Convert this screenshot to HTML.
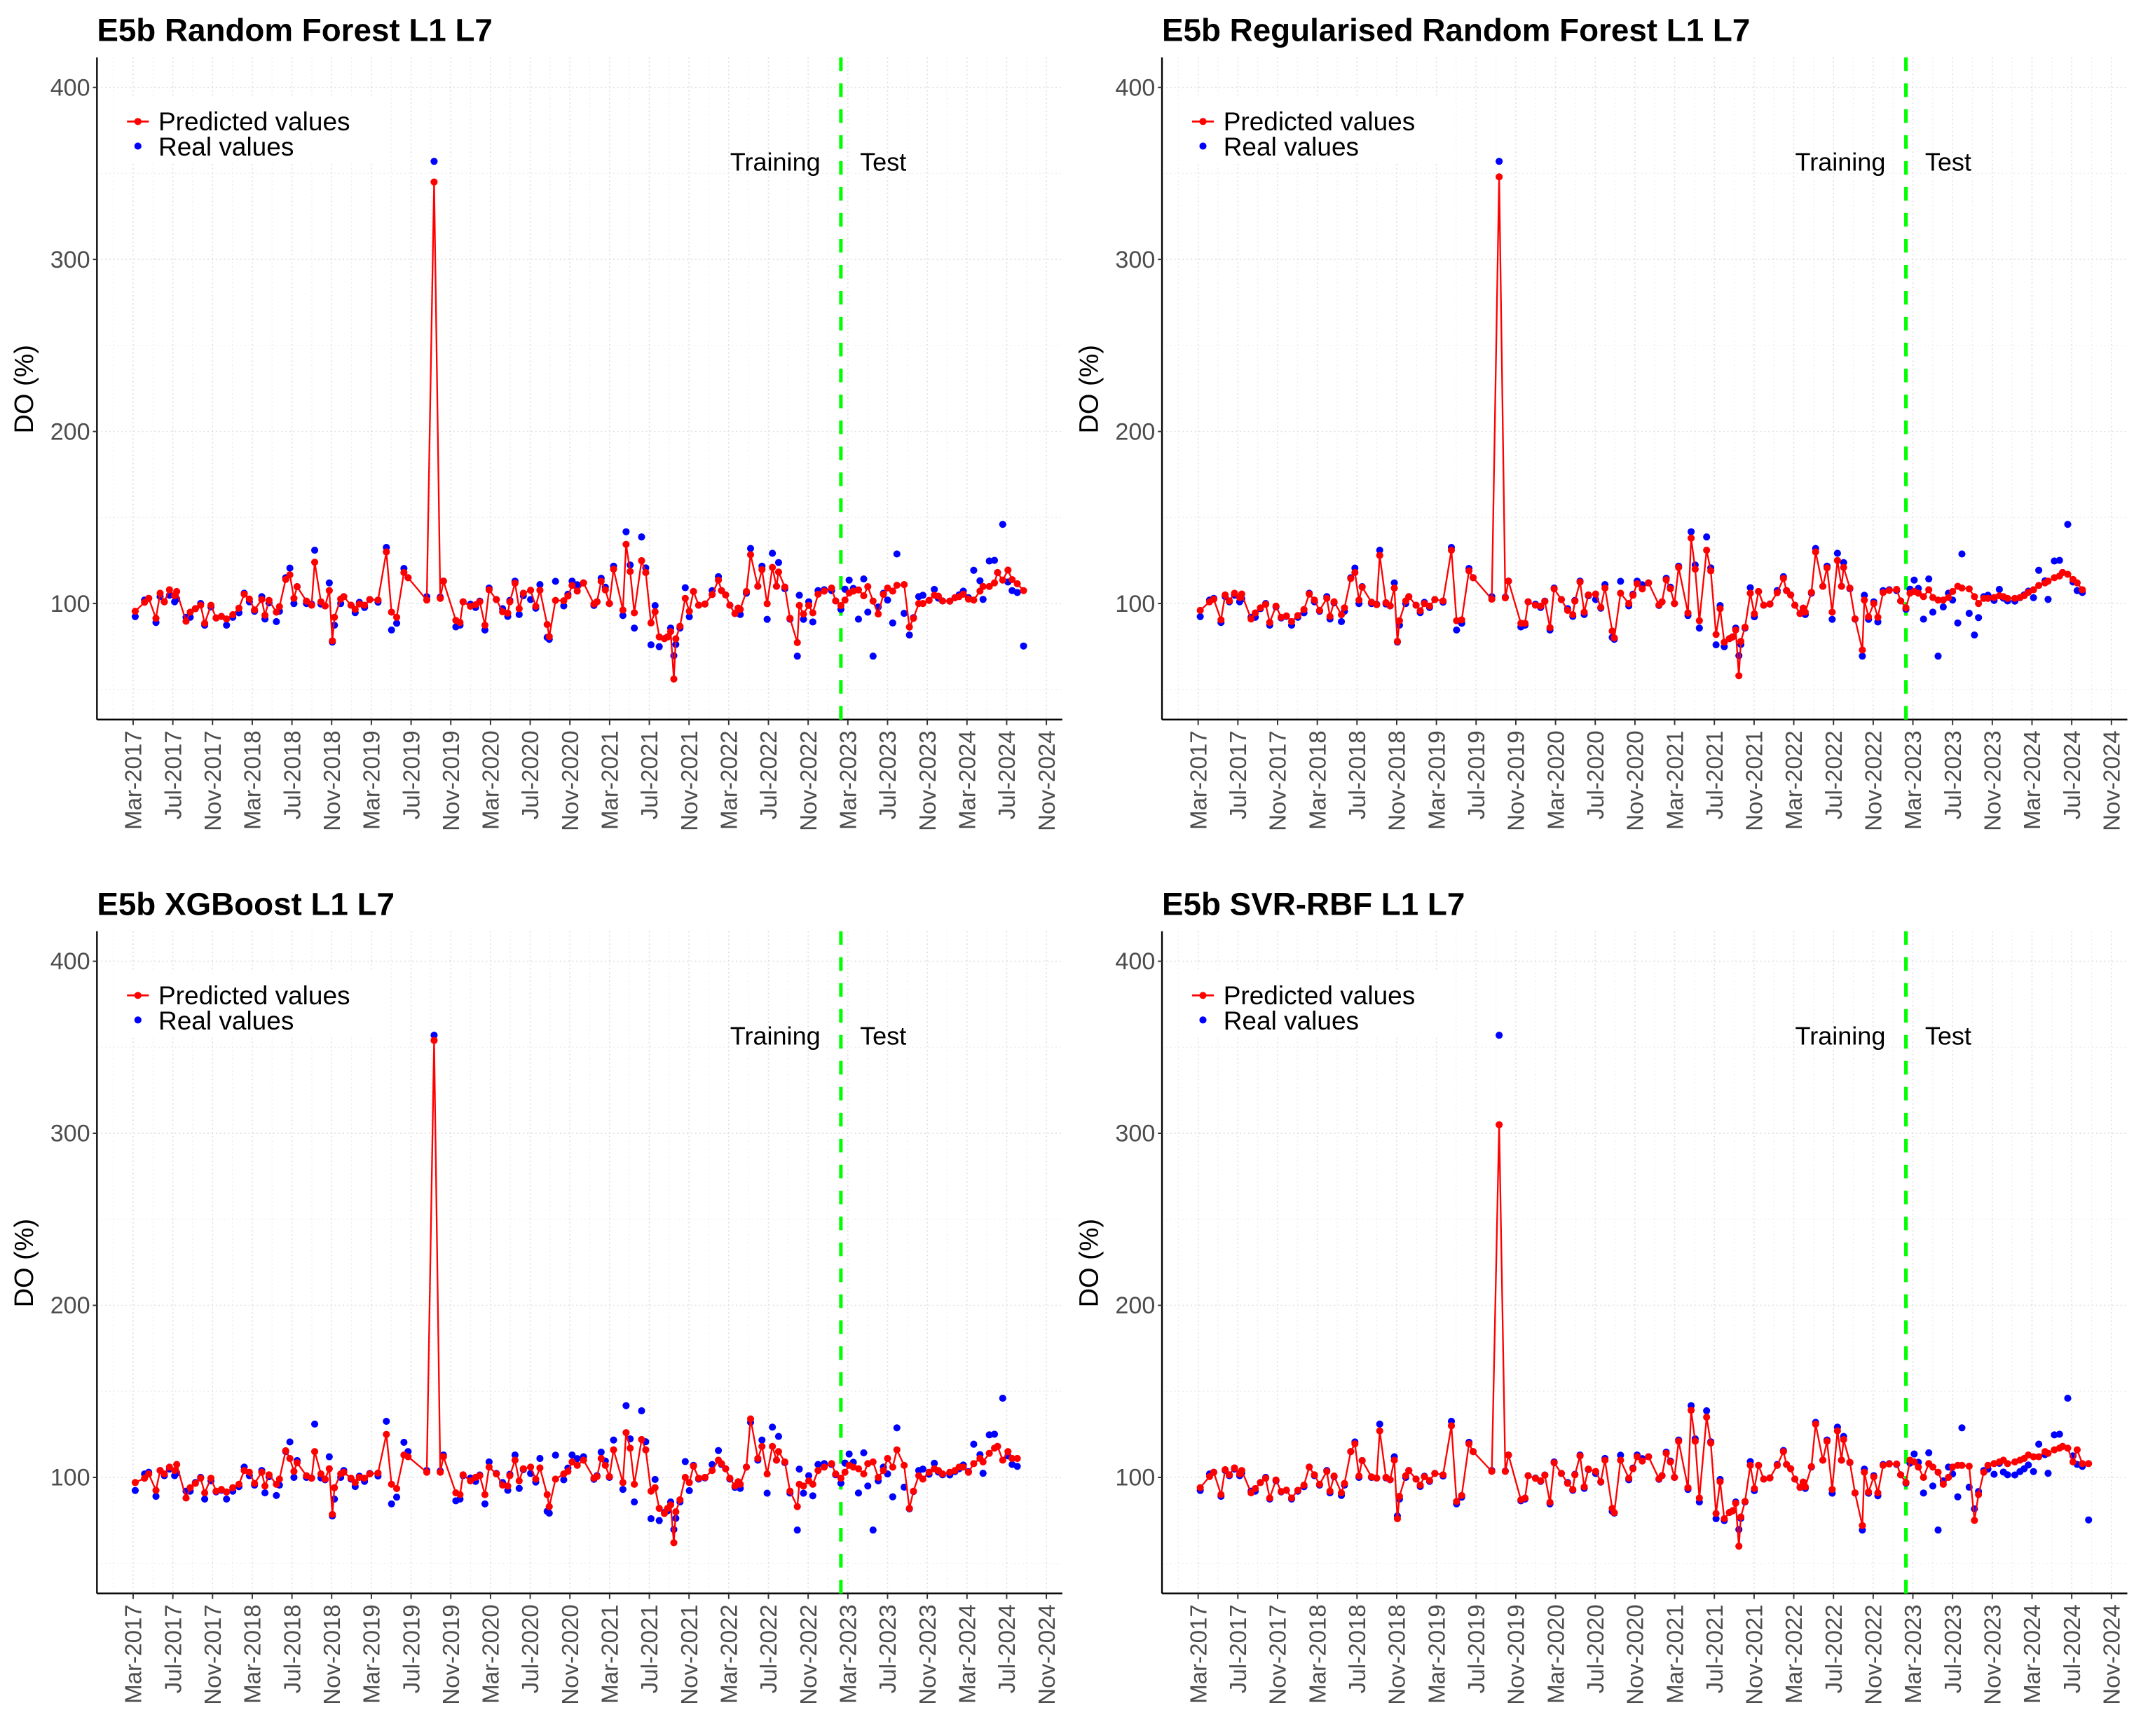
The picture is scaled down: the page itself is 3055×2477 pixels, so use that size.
<!DOCTYPE html>
<html><head><meta charset="utf-8">
<style>
html,body{margin:0;padding:0;background:#fff;}
svg{display:block;font-family:"Liberation Sans",Arial,sans-serif;}
</style></head>
<body>
<svg id="chart" width="3055" height="2477" viewBox="0 0 1568 1271.4" preserveAspectRatio="none" xmlns="http://www.w3.org/2000/svg"></svg>
<script>
const months = [0.21,1.15,1.57,2.30,2.72,3.14,3.66,4.18,4.39,5.33,5.75,6.27,6.80,7.21,7.84,8.36,8.89,9.41,10.04,10.66,11.19,11.71,12.23,12.96,13.28,13.69,14.43,14.74,15.37,15.79,16.20,16.52,17.46,17.98,18.29,18.92,19.34,19.76,20.07,20.28,20.91,21.22,21.95,22.37,22.79,23.31,23.84,24.67,25.51,26.03,26.55,27.28,27.70,29.58,30.32,30.94,31.26,32.51,32.93,33.24,33.98,34.50,34.92,35.44,35.86,36.59,37.22,37.74,37.95,38.47,38.89,39.31,40.04,40.56,40.98,41.71,41.92,42.55,43.38,43.80,44.22,44.74,45.37,46.42,46.73,47.15,47.57,47.98,48.40,49.34,49.66,50.07,50.49,51.22,51.64,52.17,52.58,53.00,53.52,53.84,54.15,54.47,54.67,55.09,55.62,56.03,56.45,56.97,57.60,58.33,58.96,59.27,59.69,60.11,60.63,60.95,61.16,61.78,62.20,62.93,63.35,63.87,64.40,64.81,65.02,65.65,66.17,66.91,67.11,67.53,68.06,68.47,69.00,69.62,70.36,70.77,71.30,71.71,72.13,72.55,73.07,73.60,74.01,74.54,75.06,75.58,76.00,76.52,76.94,77.67,78.20,78.61,79.14,79.56,80.18,80.71,81.12,81.54,82.27,82.79,83.21,83.63,84.15,84.68,85.31,85.62,86.25,86.77,87.08,87.60,88.13,88.55,89.07,89.70];
const realValues = [92.4,102,103,89,104,101,104.8,101,102.6,92,92,97,100,87.4,98,91.6,92.5,87.4,92,94.6,106,101,95.5,104,91,100.4,89.5,95.5,115,120.6,100,109.8,100,99.6,131,99.7,98.6,112,77.6,87.4,100,104,99,94.7,100.7,97.7,102.3,100.8,132.6,84.6,88.5,120.4,115,104,357,103.7,113,86.4,87.4,101,99.6,97.7,101.4,84.6,109,102.3,97,92.5,101.8,113,93.6,104.5,102.3,97.3,111,80.3,79.2,112.9,98.6,105.4,113,110.9,112,98.9,101,114.7,109.5,100,121.7,93,141.7,122.4,85.7,138.7,120.7,76,98.8,74.9,79.6,80.6,85.7,69.7,76.2,85.7,109.2,92.3,107,99,99.7,107.5,115.6,107.5,105,99,94.2,97.3,93.6,106,132,110,121.7,90.8,129.2,110,123.8,108.6,90.9,69.4,104.8,90.8,101,89.3,107.5,108,107.5,101.5,96.6,108.3,113.6,108.8,90.9,114.3,95,69.4,98,106,102,88.7,128.8,94.3,81.7,91.8,104,104.8,101.8,108.2,103.1,101.5,101.4,103.4,105,107.2,103.4,119.3,113.2,102.4,124.7,125.1,118,146,112.5,107.5,106.4,75.3];
const predRF = [95.5,100.7,103,91.4,106,101,108,104.5,107,89.7,95,97,99,88.5,99,91.6,92.5,91,93.5,97.3,105.4,102.6,96.3,102.3,93.2,101.8,95,98.2,114,116.7,103,109.8,101.4,99,124,101,98.6,107.5,78.3,92,102.6,104,99,96.6,99.7,99,102.3,102,130,95,92,118,115,102,345,103,113,90.2,89,101,98.4,99.3,101,87.4,108,102.3,95.2,94.4,101,111.8,97,106,107.7,98.4,107.7,87.8,80.8,101.8,101.6,104.3,110.5,107.2,112,99.7,101,112.9,107.9,100,120,96.2,134.4,118.6,94.6,124.9,118,88.7,95.2,80.6,79.6,80.6,83.7,56.1,79.5,86.8,103,95.5,107,99,99.7,105.2,113.6,107.5,105,99,94.2,97.3,96.6,107,128.4,110,119.7,99.9,121,110,118.3,109.6,91.4,77.3,98.9,93.9,98.9,94.6,105.4,107.2,109,101.5,98.8,102,106.1,107.2,107.9,104.5,109.8,101.4,93.9,105.3,109,107.2,110.6,111,86.3,91.4,100,100,101.8,104.8,104.3,101.5,101.4,103.4,104,105.4,102.6,102,107.2,109.9,109.9,112,118,113.6,119.4,113.9,111.5,107.5];
const predRRF = [96,101,102.5,90.5,105,101.5,106,103.5,105.5,91,94.5,97.5,99.5,89,98.5,92,92.8,89.5,93,96.5,105.5,102,96,103,92.5,101,93.5,97.5,114.5,118,102,109.5,100.8,99.3,128,100.5,98.7,109,78,90,101.5,104,99,95.8,100,98.5,102.3,101.5,131,90,90.5,119,115,102.5,348,103.3,113,88.5,88.5,101,99,98.5,101.2,86,108.5,102.3,96,93.5,101.4,112.5,95,105,105.5,97.8,109,84,80,106,100,104.8,111.5,108.5,112,99.2,101,113.8,108.6,100,121,94.5,138,120,90,131,119,82,97,77.5,79.6,80.6,84.6,58,78,86.2,106,94,107,99,99.7,106.3,114.6,107.5,105,99,94.2,97.3,95,106.5,130,110,120.7,95,125,110,121,109,91.1,73,102,92.3,100,92,106.4,107.6,108.2,101.5,97.5,106,107,106,104,108,103.5,102,102,103.5,107,110,109,108.5,104,100,103,103,103.5,104.5,104,103,103,103.5,104.5,106.5,108,110.5,112,113,115,116,118,117,114,112,108];
const predXGB = [97,99.5,102,92.5,104,102,106,104,107.5,88,94,96.5,99.5,91,99.5,92,93,91.5,94,96,104,103,96.5,103,95,101.5,96,99,115.5,111,103.5,108.5,101,99.5,115,102,99,105,78.5,94,102,103,99.5,97,100,99.5,102,102.5,125,96,93.5,113,112,103,354,103,112,91,90,101.5,98,100,101,90,106,102,95.5,95,101,110,98,105,106,99,105.5,90,83,99,102,103.5,109,107,110,99.5,100.5,111,107,100.5,116,97,126,117,96,122,116,92,94,82,79,82,84,62,80,87,100,97,106.5,99.5,100,104,110,108,105,99.5,95,97.5,96,106,134,111,118,102,118,110,115,109,92,83,96,95,98,96,104,106,108,102,99.5,103,107,106,105,102,108,109,100,104,111,106,116,107,82,92,101,99,103,105,104,102,103,104,106,106,103,108,111,109,114,117,118,110,115,111,111];
const predSVR = [94,100.5,103,90,104.5,101.5,105.5,102,104,91,93.5,97,99.5,88,98.5,91.8,92.6,88,92.5,95.5,106,101.5,96,103.5,92,100.8,91,96.5,115,119.5,100.8,109.8,100.3,99.6,127,100,98.7,110,76,89,101,104,99,95.5,100.4,98.2,102.3,101.5,130,86,89.5,119.5,115,103.5,305,103.5,113,87,88,101,99.4,98,101.3,85.5,108.5,102.3,96.5,93,101.5,112.5,94.5,104.8,103.5,97.5,110,82,79.5,110,99.5,105,112,109.5,112,99.2,101,114,109,100,121,94,139,121,88,135,120,79,97.5,76,79.6,80.6,85,60,77,86,107,93.5,107,99,99.7,107,115,107.5,105,99,94.2,97.3,94.5,106.3,131,110,121,93,127,110,122,108.8,91,72,103,91.5,100.3,91,107,107.8,107.8,101.5,97,110,109,106,100,108,106,103,96,100,106,107,107,106.5,75,90,103,107,108,109,110,108,109,110,111,113,112,112,115,114,116,117,118,117,109,116,108,108];
const testStart = 71.3;
const yTicks = [100,200,300,400];
const xTickLabels = ["Mar-2017","Jul-2017","Nov-2017","Mar-2018","Jul-2018","Nov-2018","Mar-2019","Jul-2019","Nov-2019","Mar-2020","Jul-2020","Nov-2020","Mar-2021","Jul-2021","Nov-2021","Mar-2022","Jul-2022","Nov-2022","Mar-2023","Jul-2023","Nov-2023","Mar-2024","Jul-2024","Nov-2024"];
const panelTitles = ["E5b Random Forest L1 L7","E5b Regularised Random Forest L1 L7","E5b XGBoost L1 L7","E5b SVR-RBF L1 L7"];

const NS="http://www.w3.org/2000/svg";
const svg=document.getElementById('chart');
function mk(tag,attrs,parent){const e=document.createElementNS(NS,tag);for(const k in attrs)e.setAttribute(k,attrs[k]);(parent||svg).appendChild(e);return e;}

const preds=[predRF,predRRF,predXGB,predSVR];
const offs=[[0,0],[780,0],[0,640],[780,640]];
const slugs=['random-forest','regularised-rf','xgboost','svr-rbf'];
const PX_PER_MONTH=7.27;

offs.forEach((o,pi)=>{
  const ox=o[0], oy=o[1];
  const L=71+ox, R=778+ox, T=42+oy, B=527+oy;
  const xs=m=>97.5+ox+m*PX_PER_MONTH;
  const ys=v=>442+oy-(v-100)*1.26;
  const g=mk('g',{});
  
  
  const grid=mk('g',{},g);
  
  
  for(let v=50;v<=400;v+=50){const y=ys(v);if(y<T||y>B)continue;
    mk('line',{x1:L,x2:R,y1:y,y2:y,stroke:v%100?'#ececec':'#dedede','stroke-width':v%100?0.6:0.8,'stroke-dasharray':'1 2'},grid);}
  for(let m=-2;m<=94;m+=2){const x=xs(m);if(x<L||x>R)continue;
    mk('line',{x1:x,x2:x,y1:T,y2:B,stroke:m%4?'#ececec':'#dedede','stroke-width':m%4?0.6:0.8,'stroke-dasharray':'1 2'},grid);}
  const ax=mk('line',{x1:L,x2:L,y1:T,y2:B,stroke:'#000','stroke-width':1.2},g);
  
  
  const bx=mk('line',{x1:L,x2:R,y1:B,y2:B,stroke:'#000','stroke-width':1.2},g);
  
  
  yTicks.forEach(v=>{const y=ys(v);
    mk('line',{x1:L-3,x2:L,y1:y,y2:y,stroke:'#333','stroke-width':1},g);
    const t=mk('text',{x:L-5,y:y+6,'text-anchor':'end','font-size':17.5,fill:'#4d4d4d'},g);t.textContent=v;
    
    });
  xTickLabels.forEach((lab,i)=>{const x=xs(i*4);
    mk('line',{x1:x,x2:x,y1:B,y2:B+4,stroke:'#333','stroke-width':1},g);
    const t=mk('text',{x:0,y:0,'text-anchor':'end','font-size':17,fill:'#4d4d4d',transform:`translate(${x+6},${B+8}) rotate(-90)`},g);t.textContent=lab;
    
    });
  const yt=mk('text',{x:0,y:0,'text-anchor':'middle','font-size':19.5,fill:'#000',transform:`translate(${24+ox},${285+oy}) rotate(-90)`},g);yt.textContent='DO (%)';
  
  
  const ti=mk('text',{x:L,y:30+oy,'font-size':23.5,'font-weight':'bold',fill:'#000'},g);ti.textContent=panelTitles[pi];
  
  
  mk('rect',{x:L+12,y:T+30,width:190,height:48,fill:'#fff'},g);
  const gl=mk('line',{x1:xs(testStart),x2:xs(testStart),y1:T,y2:B,stroke:'#00ff00','stroke-width':2.6,'stroke-dasharray':'10 9'},g);
  
  
  const tr=mk('text',{x:xs(testStart)-15,y:125+oy,'text-anchor':'end','font-size':18.5,fill:'#000'},g);tr.textContent='Training';
  
  
  const te=mk('text',{x:xs(testStart)+14,y:125+oy,'font-size':18.5,fill:'#000'},g);te.textContent='Test';
  
  
  const p=preds[pi];
  const n=Math.min(months.length,realValues.length,p.length);
  const rg=mk('g',{},g);
  
  
  for(let i=0;i<n;i++){const c=mk('circle',{cx:xs(months[i]),cy:ys(realValues[i]),r:2.6,fill:'#0000ff'},rg);
    
    }
  const pg=mk('g',{},g);
  
  
  const pts=[];for(let i=0;i<n;i++)pts.push(xs(months[i])+','+ys(p[i]));
  const pl=mk('polyline',{points:pts.join(' '),fill:'none',stroke:'#ff0000','stroke-width':1.2},pg);
  
  
  for(let i=0;i<n;i++){const c=mk('circle',{cx:xs(months[i]),cy:ys(p[i]),r:2.6,fill:'#ff0000'},pg);
    
    }
  const lg=mk('g',{},g);
  
  
  mk('line',{x1:L+22,x2:L+38,y1:89+oy,y2:89+oy,stroke:'#ff0000','stroke-width':1.4},lg);
  mk('circle',{cx:L+30,cy:89+oy,r:2.6,fill:'#ff0000'},lg);
  const l1=mk('text',{x:L+45,y:95.5+oy,'font-size':19,fill:'#000'},lg);l1.textContent='Predicted values';
  
  
  mk('circle',{cx:L+30,cy:107+oy,r:2.6,fill:'#0000ff'},lg);
  const l2=mk('text',{x:L+45,y:114+oy,'font-size':19,fill:'#000'},lg);l2.textContent='Real values';
  
  
});
</script>
</body></html>
